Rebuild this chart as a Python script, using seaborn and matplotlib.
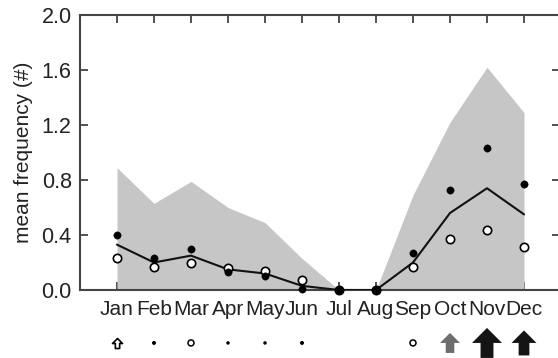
import numpy as np
import pandas as pd
import matplotlib
matplotlib.use("Agg")
import matplotlib.pyplot as plt
from matplotlib.path import Path
import seaborn as sns

months = ["Jan", "Feb", "Mar", "Apr", "May", "Jun", "Jul", "Aug", "Sep", "Oct", "Nov", "Dec"]
upper_range = [0.89, 0.63, 0.79, 0.60, 0.49, 0.23, 0.0, 0.0, 0.69, 1.22, 1.62, 1.29]
mean_line = [0.33, 0.20, 0.25, 0.15, 0.12, 0.03, 0.0, 0.0, 0.20, 0.56, 0.74, 0.55]
filled_pts = [0.40, 0.23, 0.30, 0.13, 0.10, 0.01, 0.0, 0.0, 0.27, 0.73, 1.03, 0.77]
open_pts = [0.23, 0.17, 0.20, 0.16, 0.14, 0.07, 0.0, 0.0, 0.17, 0.37, 0.44, 0.31]
trend_symbol = ["open_arrow", "dot", "open_circle", "dot", "dot", "dot", "none", "none",
                "open_circle", "arrow", "arrow", "arrow"]
trend_size = [10, 4, 6, 3.5, 3.5, 4, 0, 0, 6, 20, 30, 25]
trend_color = ["black", "black", "black", "black", "black", "black", "black", "black",
               "black", "#6e6e6e", "#151515", "#151515"]

sns.set_style("ticks")
plt.rcParams["font.family"] = ["Liberation Sans", "DejaVu Sans"]

df = pd.DataFrame({"x": np.arange(1, 13), "month": months, "upper": upper_range,
                   "mean": mean_line, "filled": filled_pts, "open": open_pts,
                   "sym": trend_symbol, "size": trend_size, "color": trend_color})

fig = plt.figure(figsize=(5.58, 3.58), dpi=100)
ax = fig.add_axes([80 / 558, 68 / 358, 480 / 558, 275 / 358])

ax.fill_between(df["x"], 0, df["upper"], color="#c6c6c6", linewidth=0, zorder=1)
sns.lineplot(data=df, x="x", y="mean", color="#111111", linewidth=1.5, ax=ax, zorder=3)
sns.scatterplot(data=df, x="x", y="open", s=36, facecolor="white", edgecolor="black",
                linewidth=1.2, ax=ax, zorder=4, clip_on=False)
sns.scatterplot(data=df, x="x", y="filled", s=28, color="black", edgecolor="black",
                linewidth=0.3, ax=ax, zorder=5, clip_on=False)

# trend symbols row below month labels
arrow_path = Path([(0, 1), (1, 0), (0.43, 0), (0.43, -1), (-0.43, -1), (-0.43, 0), (-1, 0), (0, 1)],
                  [Path.MOVETO] + [Path.LINETO] * 6 + [Path.CLOSEPOLY])
row_y = -0.385
px2pt = 0.72
for sym, sub in df.groupby("sym"):
    if sym == "none":
        continue
    yy = np.full(len(sub), row_y)
    if sym == "arrow":
        ax.scatter(sub["x"], yy, s=(sub["size"] * px2pt) ** 2, marker=arrow_path,
                   c=list(sub["color"]), edgecolors="none", clip_on=False, zorder=6)
    elif sym == "open_arrow":
        ax.scatter(sub["x"], yy, s=(sub["size"] * px2pt) ** 2, marker=arrow_path,
                   facecolors="white", edgecolors="black", linewidths=1.2, clip_on=False, zorder=6)
    elif sym == "open_circle":
        ax.scatter(sub["x"], yy, s=(sub["size"] * px2pt) ** 2, marker="o",
                   facecolors="white", edgecolors="black", linewidths=1.1, clip_on=False, zorder=6)
    elif sym == "dot":
        ax.scatter(sub["x"], yy, s=(sub["size"] * px2pt) ** 2, marker="o",
                   c="black", edgecolors="none", clip_on=False, zorder=6)

ax.set_xlim(0, 480 / 37)
ax.set_ylim(0, 2.0)
ax.set_xticks(df["x"])
ax.set_xticklabels(months)
ax.set_yticks([0, 0.4, 0.8, 1.2, 1.6, 2.0])
ax.set_yticklabels(["0.0", "0.4", "0.8", "1.2", "1.6", "2.0"])
ax.set_xlabel("")
ax.set_ylabel("mean frequency (#)", fontsize=15, color="#222222", labelpad=6)
ax.tick_params(axis="both", direction="in", top=True, right=True, length=6, width=1.2,
               color="#333333", labelcolor="#222222")
ax.tick_params(axis="x", pad=7, labelsize=15)
ax.tick_params(axis="y", pad=6, labelsize=15.5)
for sp in ax.spines.values():
    sp.set_color("#444444")
    sp.set_linewidth(1.5)
    sp.set_visible(True)

fig.savefig("out.png", dpi=100)
